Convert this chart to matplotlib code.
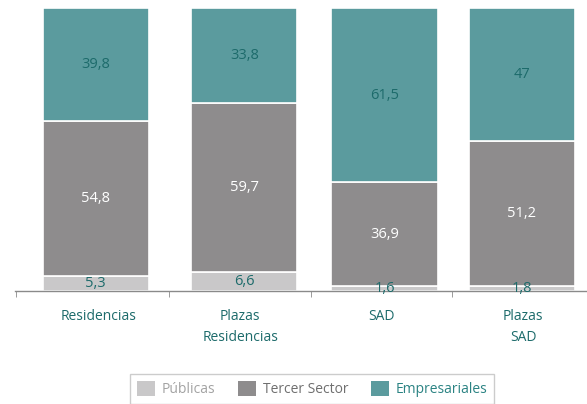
import numpy as np
import matplotlib
matplotlib.use("Agg")
import matplotlib.pyplot as plt

plt.rcParams['font.family'] = ['Open Sans', 'DejaVu Sans']

categories = ["Residencias", "Plazas\nResidencias", "SAD", "Plazas\nSAD"]
series = ["Públicas", "Tercer Sector", "Empresariales"]
publicas = [5.3, 6.6, 1.6, 1.8]
tercer = [54.8, 59.7, 36.9, 51.2]
empresariales = [39.8, 33.8, 61.5, 47]

colors = ["#c9c8c9", "#8e8c8d", "#5b9b9e"]
label_colors = ["#1d6b6b", "#ffffff", "#1d6b6b"]
legend_text_colors = ["#a3a3a3", "#6f6f6f", "#2b8383"]
teal_text = "#1d6b6b"

fig = plt.figure(figsize=(5.87, 4.04), dpi=100)
ax = fig.add_axes([15 / 587, 113 / 404, 572 / 587, 283 / 404])

x = np.arange(len(categories))
pos = x + np.array([-0.02, 0.03, 0.02, -0.01])
bottom = np.zeros(len(categories))
handles = []
for vals, col, lc, name in zip([publicas, tercer, empresariales], colors, label_colors, series):
    vals = np.array(vals)
    b = ax.bar(pos, vals, width=0.75, bottom=bottom, color=col, edgecolor="white",
               linewidth=1.2, label=name)
    handles.append(b)
    for xi, v, bt in zip(pos, vals, bottom):
        ax.text(xi, bt + v / 2, f"{v:g}".replace(".", ","), ha="center", va="center",
                fontsize=10.5, color=lc)
    bottom += vals

ax.set_xlim(-0.59, 3.45)
ax.set_ylim(0, 100)
ax.set_yticks([])
for s in ["left", "right", "top"]:
    ax.spines[s].set_visible(False)
ax.spines["bottom"].set_color("#8a8a8a")
ax.spines["bottom"].set_linewidth(1)

ax.set_xticks([-0.585, 0.5, 1.5, 2.5], minor=True)
ax.tick_params(axis="x", which="minor", length=4, color="#8a8a8a")
ax.set_xticks(x)
ax.set_xticklabels(categories, fontsize=10, color=teal_text, linespacing=1.5)
ax.tick_params(axis="x", which="major", length=0, pad=13)

leg = fig.legend(handles=handles, labels=series, loc="upper center",
                 bbox_to_anchor=(0.532, 0.074), ncol=3, frameon=True, fancybox=False,
                 edgecolor="#c0c0c0", fontsize=10, handlelength=1.3, handleheight=1.3,
                 columnspacing=1.6, handletextpad=0.5, borderpad=0.5, borderaxespad=0)
leg.get_frame().set_linewidth(1)
for t, c in zip(leg.get_texts(), legend_text_colors):
    t.set_color(c)
for h in leg.legend_handles:
    h.set_edgecolor("none")

fig.savefig("out.png", dpi=100)
